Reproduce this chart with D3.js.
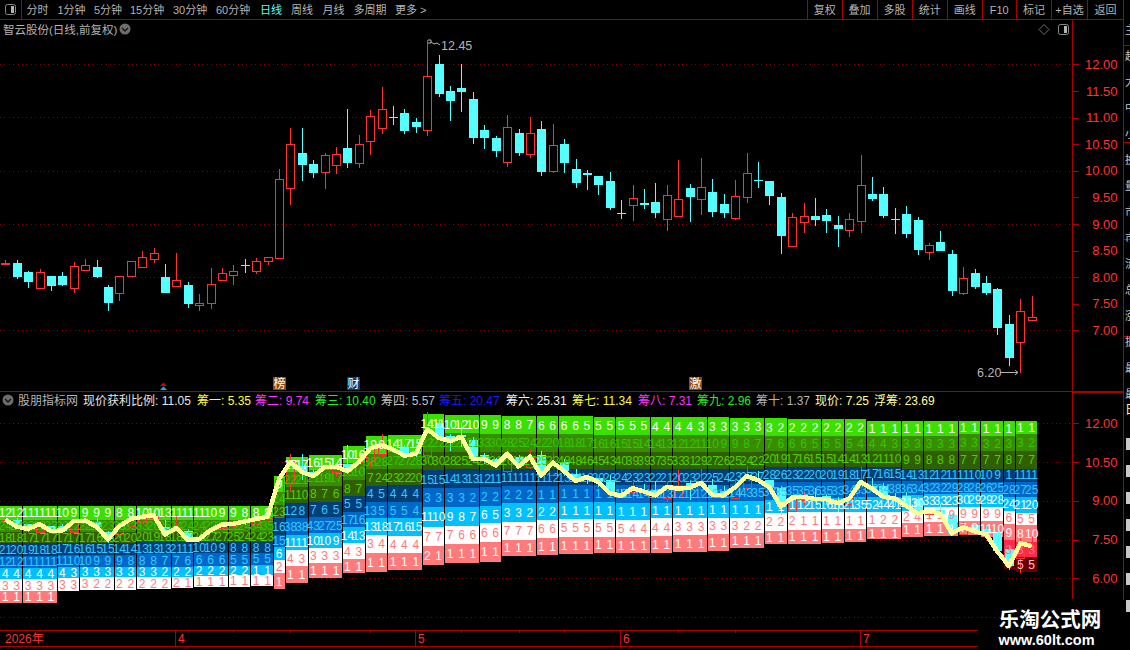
<!DOCTYPE html>
<html><head><meta charset="utf-8">
<style>html,body{margin:0;padding:0;background:#000;overflow:hidden}svg{display:block}text{font-family:"Liberation Sans","Noto Sans CJK SC",sans-serif}</style>
<script src="https://cdn.jsdelivr.net/npm/d3@7"></script></head><body>
<script>
// ---------- candles (i = 0..90) ----------
const openP=[8.24,8.27,8.10,7.80,8.02,8.02,7.80,8.13,8.19,7.81,
7.70,8.02,8.19,8.34,8.00,7.83,7.85,7.48,7.51,7.95,
8.04,8.23,8.11,8.30,8.36,9.68,10.33,10.13,9.98,10.11,
10.43,10.15,10.55,10.80,11.00,11.09,10.92,10.77,12.01,11.50,
11.56,11.35,10.77,10.62,10.16,10.71,10.32,10.78,10.00,10.50,
10.03,9.96,9.90,9.81,9.20,9.36,9.39,9.41,9.09,9.15,
9.68,9.47,9.60,9.37,9.11,9.51,9.82,9.81,9.51,8.59,
9.04,9.15,9.17,8.98,8.89,9.06,9.56,9.56,9.10,9.19,
9.07,8.47,8.66,8.44,7.70,8.08,7.89,7.78,7.12,6.78,7.19];
const highP=[8.32,8.32,8.11,8.15,8.02,8.10,8.28,8.34,8.32,7.85,
8.02,8.30,8.49,8.55,8.25,8.45,7.91,7.68,8.17,8.17,
8.23,8.34,8.36,8.38,10.03,10.80,10.80,10.20,10.33,10.45,
11.16,10.67,11.14,11.57,11.22,11.16,10.99,12.45,12.18,11.59,
12.01,11.48,10.86,10.65,11.05,10.78,11.01,10.94,10.88,10.60,
10.22,10.01,9.90,9.98,9.45,9.73,9.66,9.77,9.73,10.20,
9.75,10.24,9.85,9.56,9.83,10.33,10.17,9.81,9.58,9.21,
9.39,9.49,9.28,9.15,9.21,10.30,9.88,9.70,9.30,9.34,
9.13,8.64,8.87,8.51,8.19,8.15,8.02,7.80,7.29,7.59,7.65];
const lowP=[8.23,7.96,7.79,7.80,7.74,7.83,7.70,8.11,7.98,7.36,
7.55,8.02,8.19,8.27,7.70,7.83,7.42,7.36,7.40,7.93,
7.85,8.08,8.06,8.23,8.34,9.36,9.81,9.87,9.66,9.94,
10.05,10.05,10.30,10.69,10.86,10.69,10.71,10.65,11.39,10.94,
11.10,10.50,10.41,10.26,10.07,10.28,10.24,9.90,9.96,9.96,
9.68,9.64,9.54,9.26,9.09,9.05,9.28,9.11,8.87,9.15,
9.03,9.17,9.13,9.11,9.07,9.39,9.68,9.36,8.44,8.59,
8.83,8.96,8.83,8.57,8.76,8.83,9.43,9.11,8.81,8.74,
8.42,8.32,8.49,7.65,7.67,7.78,7.67,6.91,6.33,6.20,7.19];
const closeP=[8.27,8.00,7.91,8.10,7.83,7.85,8.21,8.23,8.00,7.51,
8.02,8.30,8.38,8.45,7.70,7.95,7.49,7.51,7.87,8.08,
8.11,8.20,8.30,8.38,9.84,10.50,10.11,9.96,10.30,10.32,
10.15,10.50,11.03,11.16,10.99,10.75,10.82,11.78,11.44,11.31,
11.48,10.62,10.62,10.37,10.82,10.33,10.71,9.98,10.48,10.15,
9.77,9.92,9.73,9.30,9.19,9.49,9.36,9.21,9.54,9.47,
9.51,9.69,9.23,9.21,9.53,9.96,9.80,9.53,8.77,9.13,
9.15,9.07,9.06,8.91,9.09,9.73,9.47,9.15,9.09,8.81,
8.51,8.61,8.49,7.74,7.98,7.82,7.70,7.04,6.48,7.36,7.25];

// ---------- chip bands: columns per block, then band edges per block (price) ----------
const blockSizes=[2,3,2,3,2,3,2,3,2,2,1,2,3,2,2,3,2,3,2,3,2,3,2,3,2,3,2,3,2,3,2,2,3,2,3,2,2,1,2];
const edgeDeep=[5.06,5.06,5.51,5.55,5.55,5.57,5.61,5.65,5.68,5.70,5.59,5.83,6.00,6.19,6.26,6.32,6.51,6.58,6.64,6.86,6.90,6.94,6.97,6.99,6.99,7.03,7.07,7.16,7.33,7.33,7.35,7.42,7.51,7.61,7.64,7.67,7.61,6.36,6.26];
const edgeRed=[5.06,5.06,5.51,5.55,5.55,5.57,5.61,5.65,5.68,5.70,5.59,5.83,6.00,6.19,6.26,6.32,6.51,6.58,6.64,6.86,6.90,6.94,6.97,6.99,6.99,7.03,7.07,7.16,7.33,7.33,7.35,7.42,7.51,7.61,7.64,7.67,7.61,6.77,6.81];
const edgePink=[5.06,5.06,5.51,5.55,5.55,5.57,5.61,5.65,5.68,5.70,5.59,5.83,6.00,6.19,6.26,6.32,6.51,6.58,6.64,6.86,6.90,6.94,6.97,6.99,6.99,7.03,7.07,7.16,7.33,7.33,7.35,7.42,7.51,7.61,7.64,7.67,7.61,7.48,7.42];
const edgeWhite=[5.51,5.51,5.51,5.55,5.55,5.57,5.61,5.65,5.68,5.70,6.19,6.47,6.60,6.73,6.99,6.99,7.25,7.33,7.42,7.48,7.57,7.61,7.61,7.58,7.64,7.67,7.71,7.74,7.84,7.87,7.89,7.92,7.97,8.13,8.19,8.23,8.23,8.09,8.06];
const edgeSky=[5.96,5.96,6.00,6.04,6.04,6.04,6.06,6.09,6.11,6.11,6.71,7.09,7.16,7.35,7.67,7.65,8.00,8.04,8.15,8.19,8.25,8.28,8.28,8.25,8.32,8.32,8.35,8.35,8.54,8.58,8.58,8.58,8.58,8.62,8.75,8.77,8.77,8.62,8.54];
const edgeBlue=[6.41,6.41,6.45,6.45,6.45,6.45,6.45,6.48,6.48,6.50,7.22,7.67,7.74,7.97,8.32,8.32,8.75,8.77,8.80,8.90,8.93,8.96,8.96,8.93,8.93,8.96,8.96,9.00,9.03,9.09,9.09,9.13,9.16,9.22,9.26,9.29,9.29,9.13,9.13];
const edgeNavy=[6.87,6.87,6.90,6.90,6.90,6.93,6.93,6.97,6.97,6.99,7.67,8.32,8.36,8.58,8.96,8.96,9.48,9.48,9.52,9.57,9.57,9.61,9.61,9.61,9.61,9.61,9.61,9.64,9.71,9.71,9.71,9.76,9.78,9.76,9.74,9.74,9.74,9.74,9.74];
const edgeOlive=[7.38,7.38,7.38,7.38,7.38,7.40,7.40,7.40,7.40,7.40,8.32,8.93,8.96,9.18,9.57,9.61,10.19,10.22,10.19,10.22,10.22,10.22,10.19,10.22,10.22,10.22,10.22,10.25,10.29,10.29,10.29,10.29,10.29,10.25,10.25,10.25,10.25,10.25,10.25];
const edgeGreen=[7.80,7.80,7.80,7.80,7.80,7.80,7.80,7.80,7.80,7.80,8.83,9.52,9.57,9.80,10.22,10.22,10.90,10.90,10.90,10.90,10.90,10.90,10.90,10.90,10.90,10.90,10.90,10.90,10.94,10.94,10.94,10.94,10.94,10.94,10.94,10.94,10.94,10.94,10.94];
const edgeBright=[8.25,8.25,8.25,8.25,8.25,8.25,8.25,8.25,8.25,8.25,9.35,10.13,10.19,10.45,10.83,10.90,11.61,11.61,11.58,11.58,11.57,11.57,11.54,11.54,11.54,11.54,11.54,11.54,11.50,11.50,11.50,11.50,11.50,11.50,11.50,11.58,11.50,11.50,11.58];
const edgeTop=[8.80,8.80,8.80,8.80,8.80,8.80,8.80,8.80,8.80,8.80,9.97,10.71,10.77,11.12,11.52,11.54,12.36,12.32,12.32,12.30,12.28,12.28,12.25,12.25,12.23,12.23,12.23,12.19,12.19,12.15,12.15,12.15,12.10,12.10,12.10,12.10,12.10,12.10,12.09];

// ---------- numbers printed in the bands, one per column ----------
const lblBright=[12,12,11,11,11, 10,9,9,9,9, 8,8,10,10,13, 11,11,11,10,9, 9,8,8,8,9, 17,17,16,15,14, 10,16,19,9,14, 17,15,14,11,10, 12,10,9,9,8, 8,7,6,6,6, 6,5,5,5,5, 5,5,4,4,4, 4,3,3,3,3, 3,3,3,2,2, 2,2,2,2,2, 2,1,1,1,1, 1,1,1,1,1, 1,1,1,1,1,1];
const lblGreen=[24,24,23,23,23, 22,22,22,23,23, 33,33,33,26,25, 24,24,24,23,22, 22,24,34,35,24, 22,21,21,19,17, 13,10,38,28,27, 27,28,22,22,22, 21,21,33,30,28, 25,24,22,20,18, 18,17,16,16,15, 15,14,14,13,12, 12,11,10,9,9, 8,7,7,6,6, 6,5,5,5,5, 4,4,4,3,3, 3,3,3,3,3, 3,3,2,3,3,2];
const lblOlive=[18,18,17,17,17, 17,17,17,16,16, 20,20,20,19,18, 18,17,28,27,27, 25,24,24,23,23, 11,10,8,7,6, 8,7,7,24,23, 22,20,30,30,28, 25,24,23,21,20, 18,25,25,22,48, 48,46,45,43,40, 39,39,37,35,33, 31,29,27,26,25, 24,22,20,19,17, 16,15,15,14,14, 13,12,11,10,9, 9,8,8,8,7, 7,7,7,8,7,7];
const lblNavy=[21,20,19,18,18, 17,16,16,15,15, 14,14,13,13,13, 21,11,10,10,9, 8,8,8,8,16, 12,8,7,6,5, 5,5,4,5,4, 4,4,15,15,14, 13,13,12,11,11, 11,11,11,12,13, 14,18,20,23,24, 23,23,22,21,20, 23,22,25,24,23, 27,27,28,26,23, 22,20,20,19,18, 17,17,16,15,14, 13,12,12,11,11, 10,10,9,1,11,11];
const lblBlue=[12,12,11,11,11, 11,10,10,9,9, 9,8,8,8,7, 7,6,6,6,6, 5,5,5,5,15, 38,38,43,27,25, 17,16,13,5,5, 5,4,3,3,3, 3,2,2,2,2, 2,2,1,1,1, 1,1,1,1,15, 14,14,13,13,12, 12,12,12,11,14, 43,35,37,35,35, 35,36,35,33,34, 33,33,34,38,36, 34,32,32,29,28, 28,26,25,28,27,25];
const lblSky=[4,4,4,4,4, 4,3,3,3,3, 3,3,3,3,2, 2,2,2,2,2, 2,2,1,1,6, 11,11,10,10,9, 14,13,13,18,17, 16,15,11,10,9, 8,7,6,5,3, 3,2,2,2,1, 1,1,1,1,1, 1,1,1,1,1, 1,1,1,1,1, 1,1,1,1,1, 12,15,16,18,21, 35,52,44,41,31, 30,33,33,23,30, 29,29,28,24,21,20];
const lblWhite=[3,3,3,3,3, 3,3,3,2,2, 2,2,2,2,2, 2,1,1,1,1, 1,1,1,1,2, 4,3,3,3,3, 4,3,3,4,4, 4,4,7,7,7, 6,6,6,6,7, 7,7,6,6,5, 5,5,5,5,5, 4,4,4,4,3, 3,3,3,3,3, 2,2,2,2,2, 1,1,1,1,1, 1,1,2,2,2, 4,1,1,9,9, 9,9,9,6,5,5];
const lblPink=[1,1,1,1,1, 1,1,1,1,1, 1,1,1,1,1, 1,1,1,1,1, 1,1,1,1,1, 1,1,1,1,1, 1,1,1,1,1, 1,1,2,1,1, 1,1,1,1,1, 1,1,1,1,1, 1,1,1,1,1, 1,1,1,1,1, 1,1,1,1,1, 1,1,1,1,1, 1,1,1,1,1, 1,1,1,1,1, 1,1,1,1,7, 9,11,10,9,8,10];
const lblRed=[3,3,3];
const lblDeep=[6,5,5];
const redColumns=[88,89,90];

// ---------- texts ----------
const navLeft=[["分时",26.5],["1分钟",57.5],["5分钟",94],["15分钟",130],["30分钟",173],["60分钟",216],["日线",260],["周线",291],["月线",322.5],["多周期",353.5],["更多 >",395]];
const navRight=["复权","叠加","多股","统计","画线","F10","标记","+自选","返回"];
const navRightSep=[807,841.5,876.5,911.5,947,981.5,1016,1051,1087,1123];
const legendItems=[["股朋指标网","#b4b4b4",18],["现价获利比例: 11.05","#e6e6e6",83],["筹一: 5.35","#ffff33",197],["筹二: 9.74","#ff33ff",255],["筹三: 10.40","#22ee22",315],["筹四: 5.57","#c0c0c0",381],["筹五: 20.47","#1a1aff",439],["筹六: 25.31","#f0f0f0",506],["筹七: 11.34","#ffff33",572],["筹八: 7.31","#ff33ff",638],["筹九: 2.96","#22ee22",697],["筹十: 1.37","#b4b4b4",756],["现价: 7.25","#ffff99",815],["浮筹: 23.69","#ffff99",874]];
const upperTicks=[12,11.5,11,10.5,10,9.5,9,8.5,8,7.5,7];
const lowerTicks=[12,10.5,9,7.5,6];
const upperGrid=[12,11,10,9,8,7];
const lowerGrid=[12,10.5,9,7.5,6,4.5];
const monthCols=[15,36,54,75];
const monthNames=["4","5","6","7"];
const minorCols=[20,25,32,40,45,49,59,64];
const tags=[["榜",24,"#8a4a12"],["财",30.5,"#0b3f78"],["激",60.5,"#8a4a12"]];
const sideRows=["主力净量","超大单数","大单净额","中单净额","小单净额","换手比率","量比数值","市盈动态","市净比率","流通市值","总市值额","涨跌幅度","振幅比率","最高价格","最低价格"];

const W=1130,H=650;
const RED="#ff3232",DKRED="#aa0000",CYAN="#54ffff",GRAY="#b4b4b4";
const svg=d3.select("body").append("svg").attr("width",W).attr("height",H).style("background","#000");
const x=d3.scaleLinear().domain([0,90]).range([5.3,1031.7]);
const yUp=d3.scaleLinear().domain([7,12]).range([330.3,64.3]);
const yLow=d3.scaleLinear().domain([6,12]).range([578.3,423.3]);
const n=closeP.length, idx=d3.range(n);
const px=v=>Math.round(v);

function hline(g,y,x1,x2,c,w){g.append("line").attr("x1",x1).attr("x2",x2).attr("y1",y).attr("y2",y).attr("stroke",c).attr("stroke-width",w||1).attr("shape-rendering","crispEdges");}
function vline(g,xx,y1,y2,c,w){g.append("line").attr("x1",xx).attr("x2",xx).attr("y1",y1).attr("y2",y2).attr("stroke",c).attr("stroke-width",w||1).attr("shape-rendering","crispEdges");}

// grid
const grid=svg.append("g").attr("stroke","#8c0000").attr("stroke-dasharray","1 3.4").attr("shape-rendering","crispEdges");
grid.selectAll("line.u").data(upperGrid).join("line").attr("class","u").attr("x1",0).attr("x2",1072).attr("y1",d=>px(yUp(d))+.5).attr("y2",d=>px(yUp(d))+.5);
grid.selectAll("line.l").data(lowerGrid).join("line").attr("class","l").attr("x1",0).attr("x2",1072).attr("y1",d=>px(yLow(d))+.5).attr("y2",d=>px(yLow(d))+.5);

// candles
function candles(g,y){
  const c=g.selectAll("g").data(idx).join("g").attr("shape-rendering","crispEdges");
  const isUp=i=>closeP[i]>=openP[i];
  const top=i=>px(y(Math.max(openP[i],closeP[i])));
  const bot=i=>px(y(Math.min(openP[i],closeP[i])));
  // wick: two pieces so it never shows through a hollow body
  c.append("line").attr("x1",i=>px(x(i))+.5).attr("x2",i=>px(x(i))+.5)
    .attr("y1",i=>y(highP[i])).attr("y2",i=>top(i))
    .attr("stroke",i=>isUp(i)?RED:CYAN);
  c.append("line").attr("x1",i=>px(x(i))+.5).attr("x2",i=>px(x(i))+.5)
    .attr("y1",i=>bot(i)).attr("y2",i=>y(lowP[i]))
    .attr("stroke",i=>isUp(i)?RED:CYAN);
  c.filter(i=>!isUp(i)).append("rect")
    .attr("x",i=>px(x(i))-4).attr("width",9)
    .attr("y",i=>top(i)).attr("height",i=>Math.max(1,bot(i)-top(i)))
    .attr("fill",CYAN);
  c.filter(isUp).append("rect")
    .attr("x",i=>px(x(i))-3.5).attr("width",8)
    .attr("y",i=>top(i)+.5).attr("height",i=>Math.max(1,bot(i)-top(i)))
    .attr("fill","none").attr("stroke",RED);
}
candles(svg.append("g"),yUp);

// chip bands
const blockOf=[];blockSizes.forEach((s,b)=>{for(let k=0;k<s;k++)blockOf.push(b);});
const bandEdges=[edgeDeep,edgeRed,edgePink,edgeWhite,edgeSky,edgeBlue,edgeNavy,edgeOlive,edgeGreen,edgeBright,edgeTop];
const bandFill=["#660000","#ff2850","#ff7b7b","#ffffff","#00c0ff","#0068c8","#003f78","#2f5f00","#388c00","#3ce000"];
const bandText=["#ffc0c0","#ff7b7b","#ffffff","#ff7b7b","#ffffff","#33c8ff","#33c8ff","#50d000","#33c800","#ffffff"];
const bandLbl=[null,null,lblPink,lblWhite,lblSky,lblBlue,lblNavy,lblOlive,lblGreen,lblBright];
const low=svg.append("g");
const colLeft=i=>px(x(i)-5.7), colRight=i=>px(x(i)+5.7);
bandFill.forEach((f,k)=>{
  low.append("g").attr("shape-rendering","crispEdges").selectAll("rect").data(idx).join("rect")
    .attr("x",i=>colLeft(i)).attr("width",i=>colRight(i)-colLeft(i))
    .attr("y",i=>px(yLow(bandEdges[k+1][blockOf[i]])))
    .attr("height",i=>Math.max(0,px(yLow(bandEdges[k][blockOf[i]]))-px(yLow(bandEdges[k+1][blockOf[i]]))))
    .attr("fill",f);
});
// block separators
let run=0;blockSizes.forEach(s=>{run+=s;if(run<n){
  const sx=colRight(run-1);
  const b=blockOf[run-1],b2=blockOf[run];
  const top=Math.min(yLow(edgeTop[b]),yLow(edgeTop[b2]));
  const bot=Math.max(yLow(edgeDeep[b]),yLow(edgeDeep[b2]));
  vline(low,sx+.5,top,bot,"#000");
}});
candles(low.append("g"),yLow);
// band numbers
const lab=low.append("g").attr("font-size",12).attr("text-anchor","middle");
bandLbl.forEach((arr,k)=>{
  if(!arr)return;
  lab.append("g").attr("fill",bandText[k]).selectAll("text").data(idx.filter(i=>yLow(bandEdges[k][blockOf[i]])-yLow(bandEdges[k+1][blockOf[i]])>4)).join("text")
    .attr("x",i=>x(i)).attr("y",i=>(yLow(bandEdges[k][blockOf[i]])+yLow(bandEdges[k+1][blockOf[i]]))/2+4.4)
    .text(i=>arr[i]);
});
[[1,lblRed],[0,lblDeep]].forEach(([k,arr])=>{
  lab.append("g").attr("fill",bandText[k]).selectAll("text").data(redColumns).join("text")
    .attr("x",i=>x(i)).attr("y",i=>(yLow(bandEdges[k][blockOf[i]])+yLow(bandEdges[k+1][blockOf[i]]))/2+4.4)
    .text((i,j)=>arr[j]);
});
// close line
low.append("path").datum(idx).attr("fill","none").attr("stroke","#ffff99").attr("stroke-width",4.5)
  .attr("stroke-linejoin","round").attr("shape-rendering","crispEdges")
  .attr("d",d3.line().x(i=>x(i)).y(i=>yLow(closeP[i])));

// frames
const fr=svg.append("g");
hline(fr,19.5,0,1123,DKRED);
vline(fr,21.5,0,19,DKRED);
navRightSep.forEach(s=>vline(fr,s+.5,0,19,DKRED));
vline(fr,1072.5,19,599,DKRED);
vline(fr,1123.5,0,600,DKRED);
hline(fr,391.5,0,1072,DKRED);
hline(fr,392,1072,1123,DKRED,2);
hline(fr,630.5,0,978,DKRED);
hline(fr,646.5,0,978,DKRED);
hline(fr,45.5,1124,1130,DKRED);hline(fr,142.5,1124,1130,DKRED);hline(fr,239.5,1124,1130,DKRED);hline(fr,336.5,1124,1130,DKRED);
monthCols.forEach(c=>vline(fr,px(x(c))-.5,630,646,DKRED));
minorCols.forEach(c=>vline(fr,px(x(c))+.5,630,633,DKRED));

// axes
function axis(y,ticks,tx){
  const g=svg.append("g").attr("transform",`translate(1072.5,0)`)
    .call(d3.axisRight(y).tickValues(ticks).tickSize(6).tickFormat(d3.format(".2f")));
  g.select(".domain").remove();
  g.selectAll("line").attr("stroke",DKRED).attr("shape-rendering","crispEdges");
  g.selectAll("text").attr("x",tx).attr("text-anchor","end").attr("fill",RED).attr("font-size",13).attr("font-family",'"Liberation Sans"');
}
axis(yUp,upperTicks,45);
axis(yLow,lowerTicks,45);

// nav
const nav=svg.append("g").attr("font-size",11).attr("fill",GRAY);
navLeft.forEach(([t,a])=>nav.append("text").attr("x",a).attr("y",13.5).attr("fill",t==="日线"?CYAN:GRAY).text(t));
navRight.forEach((t,i)=>nav.append("text").attr("x",(navRightSep[i]+navRightSep[i+1])/2+.5).attr("y",13.5).attr("text-anchor","middle").text(t));
// small icons
function winIcon(ix,iy){
  svg.append("rect").attr("x",ix+.5).attr("y",iy+.5).attr("width",10).attr("height",10).attr("rx",2).attr("fill","none").attr("stroke","#8a8a8a");
  svg.append("rect").attr("x",ix+6).attr("y",iy+2).attr("width",3).attr("height",7).attr("fill","#b4b4b4");
}
winIcon(5,4);winIcon(1058,24);
svg.append("path").attr("d","M1044 24.5L1049 29.5L1044 34.5L1039 29.5Z").attr("fill","none").attr("stroke","#707070");
function chev(cx,cy){
  svg.append("circle").attr("cx",cx).attr("cy",cy).attr("r",5.5).attr("fill","#6e6e6e");
  svg.append("path").attr("d",`M${cx-3} ${cy-1}L${cx} ${cy+2}L${cx+3} ${cy-1}`).attr("fill","none").attr("stroke","#111").attr("stroke-width",1.4);
}
svg.append("text").attr("x",3).attr("y",33.5).attr("font-size",11.5).attr("fill",GRAY).text("智云股份(日线,前复权)");
chev(125,29);chev(8,400);
const leg=svg.append("g").attr("font-size",12);
legendItems.forEach(([t,c,a])=>leg.append("text").attr("x",a).attr("y",404.5).attr("fill",c).text(t));

// high/low marks
const hi=svg.append("g").attr("fill",GRAY).attr("font-size",12.5);
hi.append("text").attr("x",441).attr("y",50).text("12.45");
hi.append("path").attr("d","M428 40H431V43H428M431 42L434 44L437 43L440 45").attr("fill","none").attr("stroke",GRAY);
hi.append("text").attr("x",977).attr("y",377).text("6.20");
hi.append("path").attr("d","M1000 372.5H1018M1015 370L1018 372.5L1015 375").attr("fill","none").attr("stroke",GRAY);

// event tags
svg.append("path").attr("d","M160 386L163.5 382.5L167 386Z").attr("fill","#d00000");
svg.append("path").attr("d","M160 390L163.5 386.5L167 390Z").attr("fill","#22a8ff");
tags.forEach(([t,c,f])=>{
  const tx=x(c);
  svg.append("rect").attr("x",px(tx)-6).attr("y",377).attr("width",13).attr("height",13).attr("fill",f);
  svg.append("text").attr("x",px(tx)+.5).attr("y",388).attr("text-anchor","middle").attr("font-size",12).attr("fill","#fff").text(t);
});

// date labels
const dt=svg.append("g").attr("fill",RED).attr("font-size",12);
dt.append("text").attr("x",5).attr("y",643).text("2026年");
monthCols.forEach((c,i)=>dt.append("text").attr("x",px(x(c))+2).attr("y",643).text(monthNames[i]));

// right strip (clipped by the window edge)
sideRows.forEach((t,i)=>svg.append("text").attr("x",1125).attr("y",34+i*26).attr("font-size",11).attr("fill","#c8c8c8").text(t));
svg.append("text").attr("x",1125).attr("y",414).attr("font-size",12).attr("fill","#ffff99").text("日");
[0,1,2,3,4,5,6].forEach(i=>svg.append("rect").attr("x",1126).attr("y",438+i*27).attr("width",4).attr("height",12).attr("fill","#c8c8c8"));

// watermark
const wm=svg.append("g").attr("text-anchor","middle");
wm.append("text").attr("x",1050).attr("y",627).attr("font-size",20.5).attr("font-weight",700).attr("fill","#fff").attr("font-family",'"Noto Sans CJK SC"').text("乐淘公式网");
wm.append("text").attr("x",1046.5).attr("y",645).attr("font-size",14.5).attr("font-weight",700).attr("fill","#fff").attr("font-family",'"Liberation Serif"').text("www.60lt.com");
</script></body></html>
